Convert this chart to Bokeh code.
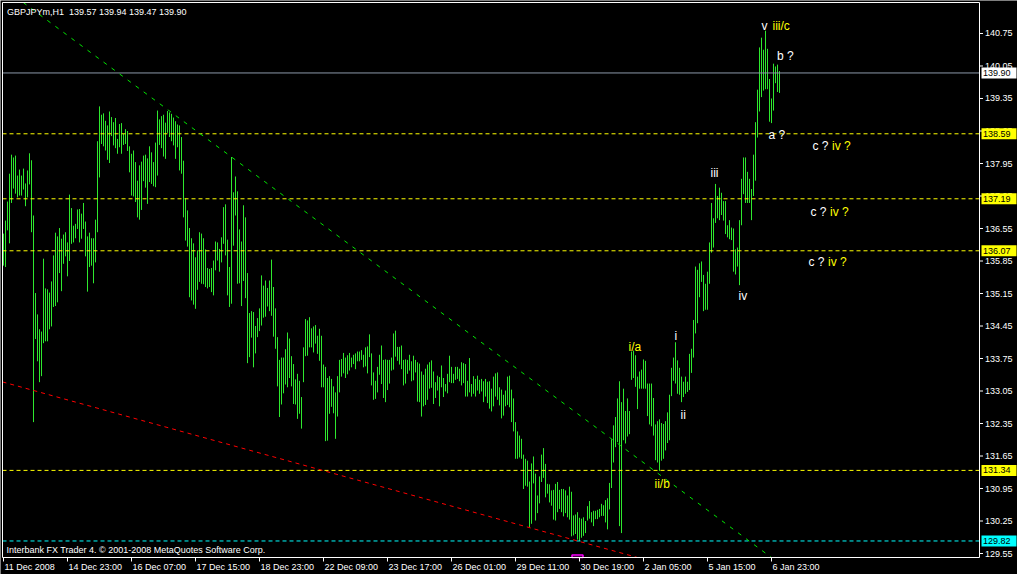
from bokeh.plotting import figure
from bokeh.models import Range1d, Label, ColumnDataSource
from bokeh.core.properties import value
from bokeh.embed import file_html
from bokeh.resources import INLINE

# ---------------- data (H1 bars) ----------------
highs = [
    136.44,136.72,137.13,137.73,138.14,138.08,138.12,137.69,137.82,137.69,
    137.84,137.52,137.80,138.17,138.02,136.83,135.16,134.70,134.38,134.33,
    135.90,135.26,135.24,135.17,135.41,135.97,136.46,136.38,136.56,136.33,
    136.42,136.47,136.25,137.28,136.99,136.61,136.65,136.96,136.97,136.87,
    137.10,136.70,136.38,136.46,136.34,136.34,136.74,138.43,139.18,139.00,
    139.03,138.87,138.77,139.07,138.95,138.84,138.93,138.48,138.80,138.82,
    138.59,138.69,138.65,138.32,138.16,138.23,137.98,137.58,137.91,137.99,
    138.12,138.14,138.06,138.32,138.19,137.98,138.40,139.09,138.90,138.97,
    139.00,138.83,139.08,139.05,139.02,138.94,138.86,138.79,138.77,138.52,
    138.01,137.20,136.94,136.56,136.34,136.23,135.93,136.08,136.47,136.44,
    136.34,136.10,135.70,135.68,135.70,135.86,136.27,136.25,136.11,136.36,
    137.01,137.07,136.31,135.72,138.09,137.33,137.67,137.35,136.53,136.27,
    137.05,136.79,135.59,134.73,134.77,134.75,134.45,134.62,134.83,135.54,
    135.32,135.43,135.27,135.43,135.88,135.29,134.83,134.21,133.72,133.77,
    133.77,133.95,134.31,134.18,133.80,133.63,133.30,133.42,133.27,132.92,
    133.99,134.60,134.57,134.64,134.40,134.44,134.47,134.24,134.39,134.24,
    133.62,133.57,133.33,133.37,133.31,133.15,133.02,133.37,133.72,133.74,
    133.87,133.77,133.82,133.87,133.77,133.83,133.86,133.90,133.90,133.93,
    133.83,133.99,134.01,134.27,133.86,133.45,133.27,133.57,133.83,134.03,
    133.72,133.73,133.72,133.72,133.77,134.29,134.35,134.00,134.00,134.03,
    133.72,133.73,133.72,133.83,133.69,133.81,133.72,133.67,133.64,133.47,
    133.40,133.53,133.62,133.67,133.71,133.47,133.24,133.38,133.35,133.60,
    133.33,133.20,133.42,133.81,133.57,133.42,133.57,133.57,133.53,133.67,
    133.65,133.63,133.27,133.76,133.20,133.37,133.31,133.38,133.29,133.31,
    133.26,133.31,133.25,133.26,133.10,133.36,133.43,133.45,133.13,133.08,
    132.97,133.06,133.36,133.38,133.08,132.89,132.38,132.18,132.09,132.02,
    131.68,131.59,131.55,131.10,131.49,131.64,131.27,130.80,131.21,131.68,
    131.82,131.48,131.05,131.04,130.91,130.92,131.05,131.09,130.92,130.94,
    130.94,130.91,130.80,130.99,130.88,130.37,130.39,130.44,130.32,130.30,
    130.33,130.25,130.57,130.68,130.44,130.47,130.47,130.49,130.51,130.62,
    130.59,130.70,130.74,131.07,132.01,132.31,132.49,132.89,133.26,132.81,
    133.10,132.62,132.89,132.62,133.90,133.92,133.82,133.36,133.47,133.51,
    133.73,133.70,133.21,133.21,133.21,132.90,132.33,132.40,132.44,132.36,
    132.34,132.40,132.59,132.97,133.55,133.77,134.10,133.71,133.55,133.36,
    133.25,133.36,133.25,133.85,133.96,134.58,135.73,135.66,135.80,135.84,
    135.55,135.36,135.62,136.25,137.10,136.77,137.51,137.25,137.43,137.32,
    137.14,137.14,136.62,136.73,136.57,136.55,136.10,136.14,136.73,137.62,
    138.08,138.08,137.77,137.62,137.40,138.14,138.84,139.54,140.45,140.66,
    140.40,140.81,140.42,139.77,139.35,140.10,140.04,140.08,139.94,
]
lows = [
    135.75,135.72,136.51,136.23,137.10,137.41,137.30,137.22,137.26,137.26,
    137.39,137.03,137.22,137.50,136.47,132.38,134.17,133.69,133.24,133.37,
    134.08,134.12,134.12,134.38,134.44,134.86,134.88,134.96,135.59,135.20,
    135.79,135.95,135.52,135.85,136.22,136.25,136.34,136.54,136.25,136.33,
    136.54,135.95,135.19,135.72,135.75,135.37,135.82,136.47,137.65,138.37,
    138.32,138.23,138.03,137.96,138.54,138.34,138.28,138.16,138.30,138.16,
    138.35,138.37,138.22,137.76,137.26,137.24,137.12,136.79,136.74,136.95,
    137.57,137.43,137.08,137.55,137.51,137.46,137.44,137.69,138.35,138.28,
    138.10,138.05,138.61,138.52,138.43,138.34,138.05,138.30,137.80,137.73,
    136.79,136.29,136.16,135.07,135.00,134.91,134.82,135.23,135.40,135.36,
    135.35,135.29,135.26,135.29,135.18,135.11,135.65,135.86,135.62,135.82,
    136.22,135.97,135.11,134.86,134.93,136.18,136.83,135.36,135.37,134.88,
    135.42,135.05,133.65,133.78,134.20,133.56,133.86,134.21,134.34,134.46,
    134.63,134.65,134.87,134.77,134.67,134.22,133.96,133.15,132.49,132.76,
    133.00,133.19,133.13,133.33,133.15,132.77,132.76,132.45,132.56,132.24,
    133.24,133.80,133.81,133.99,133.99,133.88,134.07,133.85,133.70,133.13,
    133.13,131.97,131.98,132.56,132.71,132.57,132.02,132.50,133.02,133.36,
    133.43,133.33,133.41,133.49,133.56,133.63,133.52,133.69,133.69,133.72,
    133.56,133.58,133.43,133.78,133.17,132.86,132.88,133.02,133.40,133.20,
    132.90,132.81,133.07,133.21,133.49,133.51,133.79,133.70,133.62,133.52,
    133.17,133.21,133.42,133.49,133.26,133.28,133.45,132.82,132.81,132.50,
    132.72,132.75,132.86,133.10,133.12,132.77,132.90,133.06,132.72,133.13,
    132.92,133.04,133.00,133.24,133.22,133.22,133.29,133.31,133.26,133.17,
    133.22,132.93,132.93,133.02,132.93,132.99,132.93,133.06,132.99,133.04,
    132.81,132.93,132.79,132.67,132.61,132.72,132.93,132.86,132.74,132.46,
    132.52,132.72,132.75,132.70,132.38,132.18,131.59,131.59,131.62,131.59,
    130.94,131.01,130.99,130.12,130.19,131.06,130.26,130.42,130.63,131.09,
    131.18,130.76,130.84,130.65,130.58,130.28,130.26,130.44,130.51,130.44,
    130.35,130.42,130.33,130.28,129.92,129.94,129.97,129.85,129.82,129.89,
    129.93,129.99,130.26,130.30,130.22,130.14,130.29,130.29,130.33,130.36,
    130.36,130.22,130.07,130.50,130.96,131.51,131.84,131.95,130.14,129.99,
    131.99,131.92,132.07,132.12,133.29,133.33,133.14,132.66,133.10,133.10,
    133.10,133.10,132.51,132.33,132.29,132.09,131.56,131.51,131.33,131.55,
    131.59,131.77,131.93,131.99,132.94,133.27,133.21,132.99,132.97,132.81,
    132.92,132.99,133.03,133.07,133.44,133.77,134.29,134.51,135.07,135.40,
    134.77,134.80,134.80,135.36,136.03,136.14,136.67,136.77,136.73,136.84,
    136.72,136.43,136.36,136.32,136.30,135.62,135.56,135.73,135.33,136.62,
    137.29,137.10,137.10,137.10,136.73,137.25,137.58,138.51,139.07,139.38,
    139.52,139.55,139.55,138.85,138.82,139.09,139.68,139.49,139.47,
]
n_bars = min(len(highs), len(lows))
bar_index = list(range(n_bars))

symbol_name = "GBPJPYm,H1"
last_ohlc = [139.57, 139.94, 139.47, 139.90]
copyright_text = "Interbank FX Trader 4. \u00a9 2001-2008 MetaQuotes Software Corp."

yellow_levels = [138.59, 137.19, 136.07, 131.34]
cyan_level = 129.82
bid_level = 139.90

price_ticks = [140.75, 140.05, 139.35, 138.65, 137.95, 137.25, 136.55, 135.85,
               135.15, 134.45, 133.75, 133.05, 132.35, 131.65, 130.95, 130.25, 129.55]
date_ticks = [0, 32, 64, 96, 128, 160, 192, 224, 256, 288, 320, 352, 384]
date_labels = ["11 Dec 2008", "14 Dec 23:00", "16 Dec 07:00", "17 Dec 15:00",
               "18 Dec 23:00", "22 Dec 09:00", "23 Dec 17:00", "26 Dec 01:00",
               "29 Dec 11:00", "30 Dec 19:00", "2 Jan 05:00", "5 Jan 15:00",
               "6 Jan 23:00"]

green_trend_bars = [114, 290.5]
green_trend_prices = [138.09, 132.45]
red_trend_bars = [0, 293]
red_trend_prices = [133.24, 129.75]

wave_text = ["v", "iii/c", "b ?", "a ?", "c ?", "iv ?", "c ?", "iv ?", "c ?", "iv ?",
             "iii", "iv", "i", "ii", "i/a", "ii/b"]
wave_bar = [379, 384.5, 386.8, 382.5, 404.5, 414.3, 403.5, 413.3, 402.5, 412.3,
            353.5, 367.5, 335.5, 338.5, 312.5, 325.5]
wave_price = [140.83, 140.83, 140.18, 138.48, 138.25, 138.25, 136.83, 136.83,
              135.75, 135.75, 137.66, 135.00, 134.15, 132.44, 133.92, 130.97]
wave_color = ["white", "yellow", "white", "white", "white", "yellow", "white", "yellow",
              "white", "yellow", "white", "white", "white", "white", "yellow", "yellow"]

low_marker_bar = [287]
low_marker_price = [129.52]

# ---------------- layout / styling ----------------
W, H = 1017, 574
PX_PER_BAR = 2.0
PRICE_PER_PX = 0.021538
X_START = -1.5                  # bar value at the left edge of the canvas
Y_TOP = 141.4607                # price at the top edge of the canvas
X_END = X_START + W / PX_PER_BAR
Y_BOTTOM = Y_TOP - H * PRICE_PER_PX

# chart area (inside the white frame)
CH_LEFT, CH_RIGHT = -0.5, 488.0
CH_TOP, CH_BOTTOM = 141.4177, 129.4639

BAR_COLOR = "#2ee82e"
YELLOW = "#ffff00"
CYAN = "#00ffff"
BID_GRAY = "#8c99aa"
FONT = "Liberation Sans"

p = figure(frame_width=W, frame_height=H,
           x_range=Range1d(X_START, X_END), y_range=Range1d(Y_BOTTOM, Y_TOP),
           x_axis_location=None, y_axis_location=None,
           output_backend="svg", toolbar_location=None, min_border=0,
           background_fill_color="black", border_fill_color="black",
           outline_line_color=None)
p.xgrid.visible = False
p.ygrid.visible = False

# bars
src = ColumnDataSource(dict(x=bar_index, high=highs[:n_bars], low=lows[:n_bars]))
p.segment(x0="x", y0="low", x1="x", y1="high", source=src,
          line_color=BAR_COLOR, line_width=1)

# horizontal levels
lv_all = yellow_levels + [cyan_level]
lv_col = [YELLOW] * len(yellow_levels) + [CYAN]
p.segment(x0=[CH_LEFT] * len(lv_all), y0=lv_all, x1=[CH_RIGHT] * len(lv_all), y1=lv_all,
          line_color=lv_col, line_width=1, line_dash="4 3")
p.segment(x0=[CH_LEFT], y0=[bid_level], x1=[CH_RIGHT], y1=[bid_level],
          line_color=BID_GRAY, line_width=1)


def clipped(bx, py):
    s = (py[1] - py[0]) / (bx[1] - bx[0])
    a = py[0] - s * bx[0]
    xa = max(CH_LEFT, (CH_TOP - a) / s)
    xb = min(CH_RIGHT, (CH_BOTTOM - a) / s)
    return [xa, xb], [a + s * xa, a + s * xb]


gx, gy = clipped(green_trend_bars, green_trend_prices)
p.line(gx, gy, line_color="#00e600", line_width=1, line_dash="4 6")
rx, ry = clipped(red_trend_bars, red_trend_prices)
p.line(rx, ry, line_color="#ff0000", line_width=1, line_dash="4 4")

# low marker (half hidden under the frame)
p.quad(left=[b - 2.75 for b in low_marker_bar], right=[b + 2.75 for b in low_marker_bar],
       top=low_marker_price, bottom=[CH_BOTTOM] * len(low_marker_price),
       fill_color=None, line_color="#ff00ff", line_width=1.5)

# white frame
p.line([CH_LEFT, CH_RIGHT, CH_RIGHT, CH_LEFT, CH_LEFT],
       [CH_TOP, CH_TOP, CH_BOTTOM, CH_BOTTOM, CH_TOP], line_color="white", line_width=1)

# price scale (right)
tick_len_r = 3.5 / PX_PER_BAR
p.segment(x0=[CH_RIGHT] * len(price_ticks), y0=price_ticks,
          x1=[CH_RIGHT + tick_len_r] * len(price_ticks), y1=price_ticks,
          line_color="white", line_width=1)
p.text(x=[CH_RIGHT] * len(price_ticks), y=price_ticks,
       text=["%.2f" % t for t in price_ticks], x_offset=5.5,
       text_color="white", text_font=value(FONT), text_font_size=value("9px"),
       text_baseline="middle", text_align="left")

# time scale (bottom)
tick_len_b = 4 * PRICE_PER_PX
p.segment(x0=date_ticks, y0=[CH_BOTTOM] * len(date_ticks),
          x1=date_ticks, y1=[CH_BOTTOM - tick_len_b] * len(date_ticks),
          line_color="white", line_width=1)
p.text(x=date_ticks, y=[CH_BOTTOM] * len(date_ticks), text=date_labels,
       x_offset=1, y_offset=9.5, text_color="white", text_font=value(FONT),
       text_font_size=value("9px"), text_baseline="alphabetic", text_align="left")

# price boxes on the right scale
box_levels = [bid_level] + yellow_levels + [cyan_level]
box_colors = ["white", YELLOW, YELLOW, YELLOW, YELLOW, CYAN]
box_center = CH_RIGHT + (2 + 17.5) / PX_PER_BAR
p.rect(x=[box_center] * len(box_levels), y=box_levels, width=35, height=11,
       width_units="screen", height_units="screen",
       fill_color=box_colors, line_color=None)
p.text(x=[CH_RIGHT] * len(box_levels), y=box_levels,
       text=["%.2f" % v for v in box_levels], x_offset=3.5,
       text_color="black", text_font=value(FONT), text_font_size=value("9px"),
       text_baseline="middle", text_align="left")

# wave labels
p.text(x=wave_bar, y=wave_price, text=wave_text, text_color=wave_color,
       text_font=value(FONT), text_font_size=value("12px"), y_offset=-4,
       text_baseline="alphabetic", text_align="left")

title_text = symbol_name + "\u00a0 " + " ".join("%.2f" % v for v in last_ohlc)
p.add_layout(Label(x=6.5, y=H - 11, x_units="screen", y_units="screen", text=title_text,
                   text_color="white", text_font=FONT, text_font_size="9px",
                   text_baseline="alphabetic", text_align="left"))
p.add_layout(Label(x=6, y=H - 549.5, x_units="screen", y_units="screen", text=copyright_text,
                   text_color="white", text_font=FONT, text_font_size="9px",
                   text_baseline="alphabetic", text_align="left"))

open("out.html", "w").write(file_html(p, INLINE))
